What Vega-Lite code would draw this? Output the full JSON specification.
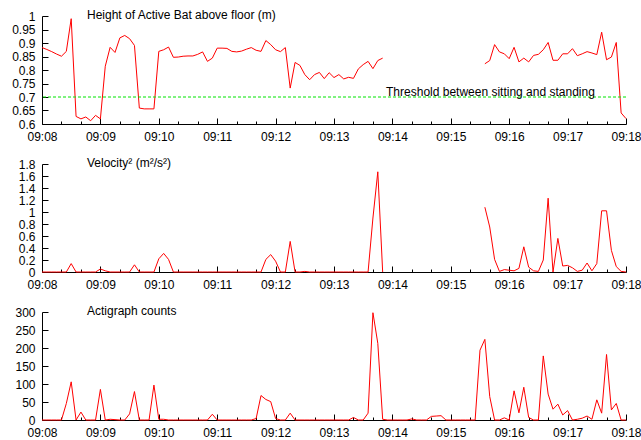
{
  "$schema": "https://vega.github.io/schema/vega-lite/v6.json",
  "padding": {"left": 11, "top": 9, "right": 0, "bottom": 0},
  "background": "white",
  "bounds": "flush",
  "spacing": 40,
  "data": {
    "values": [
      {"s":0,"h":0.883,"v":0,"a":0},
      {"s":5,"h":0.876,"v":0,"a":0},
      {"s":10,"h":0.868,"v":0,"a":0},
      {"s":15,"h":0.859,"v":0,"a":0},
      {"s":20,"h":0.851,"v":0,"a":0},
      {"s":25,"h":0.869,"v":0,"a":46},
      {"s":30,"h":0.99,"v":0.14,"a":106},
      {"s":35,"h":0.628,"v":0,"a":0},
      {"s":40,"h":0.619,"v":0,"a":22},
      {"s":45,"h":0.626,"v":0,"a":0},
      {"s":50,"h":0.612,"v":0,"a":0},
      {"s":55,"h":0.632,"v":0,"a":0},
      {"s":60,"h":0.619,"v":0.05,"a":85},
      {"s":65,"h":0.814,"v":0.02,"a":0},
      {"s":70,"h":0.884,"v":0,"a":2},
      {"s":75,"h":0.865,"v":0,"a":1},
      {"s":80,"h":0.919,"v":0,"a":0},
      {"s":85,"h":0.928,"v":0,"a":0},
      {"s":90,"h":0.916,"v":0,"a":17},
      {"s":95,"h":0.891,"v":0.12,"a":79},
      {"s":100,"h":0.659,"v":0,"a":0},
      {"s":105,"h":0.656,"v":0,"a":0},
      {"s":110,"h":0.656,"v":0,"a":0},
      {"s":115,"h":0.656,"v":0,"a":97},
      {"s":120,"h":0.869,"v":0.22,"a":2},
      {"s":125,"h":0.875,"v":0.31,"a":2},
      {"s":130,"h":0.885,"v":0.21,"a":0},
      {"s":135,"h":0.847,"v":0,"a":0},
      {"s":140,"h":0.848,"v":0,"a":0},
      {"s":145,"h":0.851,"v":0,"a":0},
      {"s":150,"h":0.852,"v":0,"a":0},
      {"s":155,"h":0.852,"v":0,"a":0},
      {"s":160,"h":0.858,"v":0,"a":0},
      {"s":165,"h":0.867,"v":0,"a":0},
      {"s":170,"h":0.832,"v":0,"a":0},
      {"s":175,"h":0.844,"v":0,"a":16},
      {"s":180,"h":0.881,"v":0,"a":0},
      {"s":185,"h":0.881,"v":0,"a":0},
      {"s":190,"h":0.880,"v":0,"a":0},
      {"s":195,"h":0.869,"v":0,"a":0},
      {"s":200,"h":0.867,"v":0,"a":0},
      {"s":205,"h":0.870,"v":0,"a":0},
      {"s":210,"h":0.877,"v":0,"a":0},
      {"s":215,"h":0.883,"v":0,"a":0},
      {"s":220,"h":0.873,"v":0,"a":4},
      {"s":225,"h":0.869,"v":0,"a":68},
      {"s":230,"h":0.909,"v":0.21,"a":57},
      {"s":235,"h":0.894,"v":0.29,"a":51},
      {"s":240,"h":0.875,"v":0.18,"a":4},
      {"s":245,"h":0.868,"v":0,"a":0},
      {"s":250,"h":0.883,"v":0,"a":0},
      {"s":255,"h":0.733,"v":0.51,"a":19},
      {"s":260,"h":0.828,"v":0,"a":0},
      {"s":265,"h":0.817,"v":0,"a":0},
      {"s":270,"h":0.783,"v":0.01,"a":0},
      {"s":275,"h":0.764,"v":0,"a":0},
      {"s":280,"h":0.783,"v":0,"a":0},
      {"s":285,"h":0.791,"v":0,"a":0},
      {"s":290,"h":0.768,"v":0,"a":0},
      {"s":295,"h":0.790,"v":0,"a":0},
      {"s":300,"h":0.772,"v":0,"a":0},
      {"s":305,"h":0.783,"v":0,"a":0},
      {"s":310,"h":0.767,"v":0,"a":0},
      {"s":315,"h":0.773,"v":0,"a":0},
      {"s":320,"h":0.769,"v":0,"a":7},
      {"s":325,"h":0.804,"v":0,"a":0},
      {"s":330,"h":0.820,"v":0,"a":0},
      {"s":335,"h":0.832,"v":0,"a":19},
      {"s":340,"h":0.805,"v":0.9,"a":298},
      {"s":345,"h":0.835,"v":1.67,"a":213},
      {"s":350,"h":0.844,"v":0,"a":2},
      {"s":355,"h":null,"v":null,"a":0},
      {"s":360,"h":null,"v":null,"a":0},
      {"s":365,"h":null,"v":null,"a":0},
      {"s":370,"h":null,"v":null,"a":0},
      {"s":375,"h":null,"v":null,"a":0},
      {"s":380,"h":null,"v":null,"a":3},
      {"s":385,"h":null,"v":null,"a":0},
      {"s":390,"h":null,"v":null,"a":0},
      {"s":395,"h":null,"v":null,"a":0},
      {"s":400,"h":null,"v":null,"a":10},
      {"s":405,"h":null,"v":null,"a":11},
      {"s":410,"h":null,"v":null,"a":12},
      {"s":415,"h":null,"v":null,"a":0},
      {"s":420,"h":null,"v":null,"a":0},
      {"s":425,"h":null,"v":null,"a":0},
      {"s":430,"h":null,"v":null,"a":0},
      {"s":435,"h":null,"v":null,"a":0},
      {"s":440,"h":null,"v":null,"a":0},
      {"s":445,"h":null,"v":null,"a":0},
      {"s":450,"h":null,"v":null,"a":194},
      {"s":455,"h":0.823,"v":1.08,"a":224},
      {"s":460,"h":0.835,"v":0.75,"a":65},
      {"s":465,"h":0.894,"v":0.21,"a":0},
      {"s":470,"h":0.867,"v":0.01,"a":0},
      {"s":475,"h":0.860,"v":0.04,"a":6},
      {"s":480,"h":0.842,"v":0.03,"a":0},
      {"s":485,"h":0.884,"v":0.02,"a":81},
      {"s":490,"h":0.830,"v":0.06,"a":20},
      {"s":495,"h":0.844,"v":0.42,"a":91},
      {"s":500,"h":0.830,"v":0.08,"a":7},
      {"s":505,"h":0.854,"v":0.02,"a":0},
      {"s":510,"h":0.858,"v":0.01,"a":0},
      {"s":515,"h":0.875,"v":0.2,"a":178},
      {"s":520,"h":0.902,"v":1.23,"a":72},
      {"s":525,"h":0.836,"v":0,"a":30},
      {"s":530,"h":0.836,"v":0.56,"a":44},
      {"s":535,"h":0.860,"v":0.1,"a":14},
      {"s":540,"h":0.860,"v":0.11,"a":26},
      {"s":545,"h":0.879,"v":0.07,"a":0},
      {"s":550,"h":0.853,"v":0.01,"a":2},
      {"s":555,"h":0.860,"v":0.03,"a":5},
      {"s":560,"h":0.868,"v":0.15,"a":11},
      {"s":565,"h":0.863,"v":0.02,"a":2},
      {"s":570,"h":0.857,"v":0.14,"a":56},
      {"s":575,"h":0.940,"v":1.02,"a":19},
      {"s":580,"h":0.838,"v":1.02,"a":182},
      {"s":585,"h":0.848,"v":0.36,"a":28},
      {"s":590,"h":0.902,"v":0.09,"a":46},
      {"s":595,"h":0.641,"v":0.01,"a":0},
      {"s":600,"h":0.620,"v":0,"a":0}
    ]
  },
  "vconcat": [
    {
      "width": 584,
      "height": 108,
      "title": {"text": "Height of Active Bat above floor (m)"},
      "resolve": {"axis": {"x": "independent", "y": "independent"}},
      "layer": [
        {
          "mark": {"type": "line", "color": "#ff0000", "strokeWidth": 1},
          "encoding": {
            "x": {"field": "s", "type": "quantitative",
              "scale": {"domain": [0, 600], "nice": false, "zero": false},
              "axis": {"title": null, "values": [0,20,40,60,80,100,120,140,160,180,200,220,240,260,280,300,320,340,360,380,400,420,440,460,480,500,520,540,560,580,600], "labelExpr": "datum.value % 60 === 0 ? '09:' + (8 + datum.value / 60 < 10 ? '0' : '') + (8 + datum.value / 60) : ''", "tickSize": {"condition": {"test": "datum.value % 60 === 0", "value": -6}, "value": -3}, "labelPadding": 13, "labelOverlap": false, "labelFlush": false}},
            "y": {"field": "h", "type": "quantitative",
              "scale": {"domain": [0.6, 1], "nice": false, "zero": false},
              "axis": {"title": null, "values": [0.6, 0.65, 0.7, 0.75, 0.8, 0.85, 0.9, 0.95, 1], "format": "~r", "tickSize": -6, "labelPadding": 13, "labelOverlap": false, "labelFlush": false}}
          }
        },
        {
          "data": {"values": [{"label": "Threshold between sitting and standing"}]},
          "mark": {"type": "rule", "color": "#00e600", "strokeDash": [3, 2], "strokeWidth": 1},
          "encoding": {"y": {"datum": 0.7, "axis": null}}
        },
        {
          "data": {"values": [{"label": "Threshold between sitting and standing"}]},
          "mark": {"type": "text", "align": "right", "baseline": "alphabetic", "dy": -1.5, "fontSize": 12, "color": "black", "font": "Liberation Sans"},
          "encoding": {
            "x": {"datum": 568, "axis": null},
            "y": {"datum": 0.7, "axis": null},
            "text": {"field": "label"}
          }
        }
      ]
    },
    {
      "width": 584,
      "height": 108,
      "title": {"text": "Velocity² (m²/s²)"},
      "mark": {"type": "line", "color": "#ff0000", "strokeWidth": 1},
      "encoding": {
        "x": {"field": "s", "type": "quantitative",
          "scale": {"domain": [0, 600], "nice": false, "zero": false},
          "axis": {"title": null, "values": [0,20,40,60,80,100,120,140,160,180,200,220,240,260,280,300,320,340,360,380,400,420,440,460,480,500,520,540,560,580,600], "labelExpr": "datum.value % 60 === 0 ? '09:' + (8 + datum.value / 60 < 10 ? '0' : '') + (8 + datum.value / 60) : ''", "tickSize": {"condition": {"test": "datum.value % 60 === 0", "value": -6}, "value": -3}, "labelPadding": 13, "labelOverlap": false, "labelFlush": false}},
        "y": {"field": "v", "type": "quantitative",
          "scale": {"domain": [0, 1.8], "nice": false},
          "axis": {"title": null, "values": [0, 0.2, 0.4, 0.6, 0.8, 1, 1.2, 1.4, 1.6, 1.8], "format": "~r", "tickSize": -6, "labelPadding": 13, "labelOverlap": false, "labelFlush": false}}
      }
    },
    {
      "width": 584,
      "height": 108,
      "title": {"text": "Actigraph counts"},
      "mark": {"type": "line", "color": "#ff0000", "strokeWidth": 1},
      "encoding": {
        "x": {"field": "s", "type": "quantitative",
          "scale": {"domain": [0, 600], "nice": false, "zero": false},
          "axis": {"title": null, "values": [0,20,40,60,80,100,120,140,160,180,200,220,240,260,280,300,320,340,360,380,400,420,440,460,480,500,520,540,560,580,600], "labelExpr": "datum.value % 60 === 0 ? '09:' + (8 + datum.value / 60 < 10 ? '0' : '') + (8 + datum.value / 60) : ''", "tickSize": {"condition": {"test": "datum.value % 60 === 0", "value": -6}, "value": -3}, "labelPadding": 13, "labelOverlap": false, "labelFlush": false}},
        "y": {"field": "a", "type": "quantitative",
          "scale": {"domain": [0, 300], "nice": false},
          "axis": {"title": null, "values": [0, 50, 100, 150, 200, 250, 300], "format": "~r", "tickSize": -6, "labelPadding": 13, "labelOverlap": false, "labelFlush": false}}
      }
    }
  ],
  "config": {
    "font": "Liberation Sans",
    "view": {"stroke": null},
    "axis": {"labelFont": "Liberation Sans", "labelFontSize": 12, "labelColor": "black", "domainColor": "black", "tickColor": "black", "grid": false, "domainWidth": 1, "tickWidth": 1, "labelOverlap": false, "labelFlush": false},
    "title": {"anchor": "start", "frame": "group", "dx": 45, "dy": 16, "offset": 0, "baseline": "middle", "fontSize": 12, "fontWeight": "normal", "font": "Liberation Sans", "color": "black"}
  }
}
